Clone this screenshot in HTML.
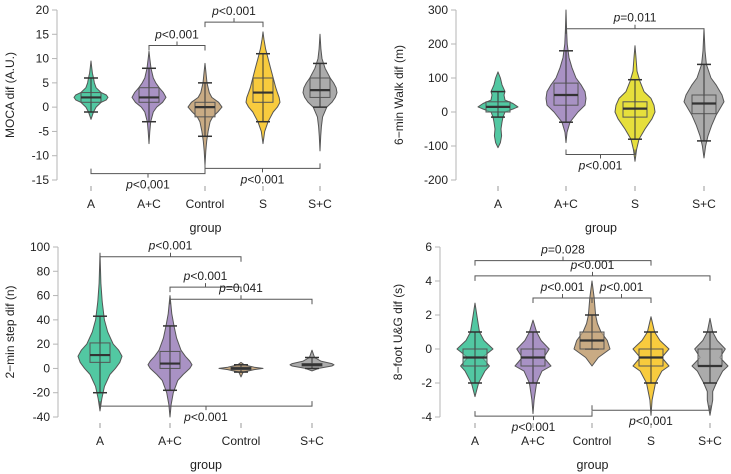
<!DOCTYPE html>
<html><head><meta charset="utf-8">
<style>
html,body{margin:0;padding:0;background:#fff;}
svg{display:block;font-family:"Liberation Sans",sans-serif;}
</style></head>
<body>
<svg id="chart" width="731" height="474" viewBox="0 0 731 474"></svg>
<script>
// ---------- DATA ----------
const colors = {"A":"#52c8a2","A+C":"#a992c4","Control":"#c9ab84","S":"#f8cb3e","S+C":"#ababab"};
// Panel 1: MOCA
const p1Categories = ["A","A+C","Control","S","S+C"];
const p1Ticks = [20,15,10,5,0,-5,-10,-15];
const p1Violins = {
 "A":{ys:[-2.5,-1,0,1,1.5,2,2.5,3,4,5,6,7,8,9.5],d:[0,0.15,0.3,0.6,0.9,1,0.9,0.6,0.3,0.2,0.15,0.08,0.05,0]},
 "A+C":{ys:[-7.5,-5,-3,-1,0,1,2,3,4,5,6,8,10,11.5],d:[0,0.05,0.1,0.25,0.45,0.8,1,0.85,0.6,0.4,0.25,0.12,0.05,0]},
 "Control":{ys:[-12,-9,-7,-5,-3,-2,-1,0,1,2,3,5,7,9],d:[0,0.05,0.1,0.18,0.3,0.45,0.75,1,0.8,0.4,0.25,0.12,0.06,0]},
 "S":{ys:[-7.5,-5,-3,-1,0,1,2,3,4,6,8,10,12,14,15.5],d:[0,0.1,0.3,0.6,0.85,1,0.95,0.85,0.75,0.6,0.45,0.3,0.15,0.05,0]},
 "S+C":{ys:[-9,-6,-4,-2,0,1,2,3,4,5,6,8,10,12,15],d:[0,0.04,0.08,0.15,0.4,0.7,0.9,1,0.95,0.8,0.6,0.3,0.12,0.05,0]}
};
const p1Boxes = {"A":[1,2,3,-1,6],"A+C":[1,2,4,-3,8],"Control":[-2,0,1,-6,5],"S":[1,3,6,-3,11],"S+C":[2,3.5,6,0,9]};
const p1Brackets = [["A+C","Control",12.7,"p<0.001","top"],["Control","S",17.5,"p<0.001","top"],["A","Control",-13.7,"p<0.001","bot"],["Control","S+C",-12.6,"p<0.001","bot"]];
// Panel 2: 6-min walk
const p2Categories = ["A","A+C","S","S+C"];
const p2Ticks = [300,200,100,0,-100,-200];
const p2Violins = {
 "A":{ys:[-105,-90,-70,-50,-30,-15,0,10,15,25,35,50,60,80,100,118],d:[0,0.12,0.18,0.15,0.2,0.25,0.35,0.8,1,0.75,0.35,0.3,0.35,0.2,0.12,0]},
 "A+C":{ys:[-90,-60,-30,0,20,40,60,80,100,130,160,200,240,300],d:[0,0.05,0.2,0.6,0.95,1,0.95,0.75,0.5,0.3,0.15,0.06,0.03,0]},
 "S":{ys:[-145,-110,-80,-50,-20,0,20,40,60,90,120,160,195],d:[0,0.08,0.2,0.5,0.85,1,0.95,0.8,0.45,0.25,0.1,0.05,0]},
 "S+C":{ys:[-135,-100,-70,-40,-10,10,30,50,80,100,140,180,245],d:[0,0.08,0.2,0.38,0.6,0.8,1,0.9,0.6,0.35,0.12,0.05,0]}
};
const p2Boxes = {"A":[0,15,30,-15,60],"A+C":[20,50,85,-30,180],"S":[-15,10,30,-80,95],"S+C":[-5,25,50,-85,140]};
const p2Brackets = [["A+C","S+C",245,"p=0.011","top"],["A+C","S",-125,"p<0.001","bot"]];
// Panel 3: 2-min step
const p3Categories = ["A","A+C","Control","S+C"];
const p3Ticks = [100,80,60,40,20,0,-20,-40];
const p3Violins = {
 "A":{ys:[-35,-25,-15,-5,0,5,10,15,20,30,40,55,70,95],d:[0,0.08,0.2,0.45,0.7,0.9,1,0.85,0.6,0.35,0.2,0.1,0.04,0]},
 "A+C":{ys:[-40,-30,-20,-10,-5,0,3,6,10,15,25,35,45,60],d:[0,0.05,0.15,0.35,0.6,0.9,1,0.9,0.7,0.5,0.3,0.18,0.08,0]},
 "Control":{ys:[-7,-3,-1,0,1,3,5],d:[0,0.1,0.6,1,0.6,0.15,0]},
 "S+C":{ys:[-2,0,2,3,4,6,9,12,15],d:[0,0.3,0.9,1,0.9,0.4,0.12,0.06,0]}
};
const p3Boxes = {"A":[5,11,21,-20,43],"A+C":[0,4,14,-18,35],"Control":[-1,0,1,-3,3],"S+C":[2,3,4,0,9]};
const p3Brackets = [["A","Control",92,"p<0.001","top"],["A+C","Control",67,"p<0.001","top"],["A+C","S+C",57,"p=0.041","top"],["A","S+C",-31,"p<0.001","bot"]];
// Panel 4: 8-foot U&G
const p4Categories = ["A","A+C","Control","S","S+C"];
const p4Ticks = [6,4,2,0,-2,-4];
const p4Violins = {
 "A":{ys:[-2.8,-2,-1.3,-1,-0.5,0,0.5,1,2,2.7],d:[0,0.2,0.55,0.8,0.4,1,0.5,0.25,0.1,0]},
 "A+C":{ys:[-3.8,-3,-2,-1.3,-1,-0.5,0,0.5,1,1.7],d:[0,0.06,0.2,0.5,1,0.6,0.9,0.45,0.2,0]},
 "Control":{ys:[-1,-0.5,0,0.5,1,1.5,2,3,4],d:[0,0.35,1,0.85,0.5,0.3,0.2,0.12,0]},
 "S":{ys:[-3.9,-3,-2,-1.3,-1,-0.5,0,0.5,1,1.9],d:[0,0.06,0.25,0.6,1,0.6,1,0.5,0.2,0]},
 "S+C":{ys:[-3.9,-3,-2.5,-2,-1.3,-1,-0.5,0,0.5,1,1.8],d:[0,0.15,0.15,0.35,0.7,1,0.55,0.85,0.4,0.15,0]}
};
const p4Boxes = {"A":[-1,-0.5,0,-2,1],"A+C":[-1,-0.5,0,-2,1],"Control":[0,0.5,1,0,2],"S":[-1,-0.5,0,-2,1],"S+C":[-1,-1,0,-2,1]};
const p4Brackets = [["A","S",5.2,"p=0.028","top"],["A","S+C",4.3,"p<0.001","top"],["A+C","Control",3,"p<0.001","top"],["Control","S",3,"p<0.001","top"],["A","Control",-3.95,"p<0.001","bot"],["Control","S+C",-3.6,"p<0.001","bot"]];

// ---------- DRAW ----------
const svg = document.getElementById('chart');
const NS = "http://www.w3.org/2000/svg";
function mk(tag, attrs, parent){const e=document.createElementNS(NS,tag);for(const k in attrs)e.setAttribute(k,attrs[k]);(parent||svg).appendChild(e);return e;}

function panel(cfg){
  const g = mk('g',{});
  
  
  const col = Object.assign({}, colors, cfg.colorOverride||{});
  const ymax=cfg.ticks[0], ymin=cfg.ticks[cfg.ticks.length-1];
  const ys = v => cfg.top + (ymax - v)/(ymax - ymin)*(cfg.bottom - cfg.top);
  const xs = c => cfg.xpos[cfg.cats.indexOf(c)];
  const ax = mk('line',{x1:cfg.axisX,x2:cfg.axisX,y1:ys(ymax),y2:ys(ymin),stroke:'#b5b5b5','stroke-width':1},g);
  
  
  cfg.ticks.forEach(t=>{
    mk('line',{x1:cfg.axisX-5,x2:cfg.axisX,y1:ys(t),y2:ys(t),stroke:'#b5b5b5'},g);
    const tx = mk('text',{x:cfg.axisX-8,y:ys(t)+4,'text-anchor':'end','font-size':12,fill:'#222'},g);
    tx.textContent=t;
    
    
  });
  const yl = mk('text',{transform:`translate(${cfg.ylabX},${(ys(ymax)+ys(ymin))/2}) rotate(-90)`,'text-anchor':'middle','font-size':12,fill:'#222'},g);
  yl.textContent=cfg.ylabel;
  
  
  cfg.cats.forEach((c,i)=>{
    const x=cfg.xpos[i];
    mk('line',{x1:x,x2:x,y1:cfg.bottom+6,y2:cfg.bottom+11,stroke:'#999'},g);
    const tl = mk('text',{x:x,y:cfg.bottom+28,'text-anchor':'middle','font-size':12,fill:'#222'},g);
    tl.textContent=c;
    
    
  });
  const xt = mk('text',{x:(cfg.xpos[0]+cfg.xpos[cfg.xpos.length-1])/2,y:cfg.bottom+52,'text-anchor':'middle','font-size':12.5,fill:'#222'},g);
  xt.textContent='group';
  
  
  cfg.cats.forEach(c=>{
    const v=cfg.violins[c], cx=xs(c), W=cfg.half;
    let pts=[];
    for(let i=0;i<v.ys.length;i++) pts.push([cx+v.d[i]*W, ys(v.ys[i])]);
    for(let i=v.ys.length-1;i>=0;i--) pts.push([cx-v.d[i]*W, ys(v.ys[i])]);
    const p = mk('polygon',{points:pts.map(p=>p[0].toFixed(1)+','+p[1].toFixed(1)).join(' '),fill:col[c],stroke:'#555','stroke-width':1,'stroke-linejoin':'round'},g);
    
    
    const b=cfg.boxes[c], bw=cfg.boxHalf;
    mk('line',{x1:cx,x2:cx,y1:ys(b[3]),y2:ys(b[4]),stroke:'#333','stroke-width':1},g);
    mk('line',{x1:cx-7,x2:cx+7,y1:ys(b[3]),y2:ys(b[3]),stroke:'#333','stroke-width':1.5},g);
    mk('line',{x1:cx-7,x2:cx+7,y1:ys(b[4]),y2:ys(b[4]),stroke:'#333','stroke-width':1.5},g);
    const bx = mk('rect',{x:cx-bw,y:ys(b[2]),width:2*bw,height:Math.max(1,ys(b[0])-ys(b[2])),fill:col[c],'fill-opacity':0.6,stroke:'#555'},g);
    
    
    mk('line',{x1:cx,x2:cx,y1:ys(b[2]),y2:ys(b[0]),stroke:'#444','stroke-width':1},g);
    mk('line',{x1:cx-bw,x2:cx+bw,y1:ys(b[1]),y2:ys(b[1]),stroke:'#333','stroke-width':2.2},g);
  });
  cfg.brackets.forEach(br=>{
    const x1=xs(br[0]), x2=xs(br[1]), y=ys(br[2]), top=br[4]==='top';
    const e = top?5:-5;
    const bg = mk('g',{},g);
    
    
    mk('path',{d:`M${x1},${y+e} L${x1},${y} L${x2},${y} L${x2},${y+e} M${(x1+x2)/2},${y} L${(x1+x2)/2},${y-e*0.8}`,fill:'none',stroke:'#555','stroke-width':1},bg);
    const t = mk('text',{x:(x1+x2)/2,y:top?y-7:y+15,'text-anchor':'middle','font-size':12,fill:'#222'},bg);
    const i=mk('tspan',{'font-style':'italic'},t); i.textContent=br[3][0];
    const r=mk('tspan',{},t); r.textContent=br[3].slice(1);
  });
}

panel({name:'moca-panel',cats:p1Categories,xpos:[91,149,205,263,320],ticks:p1Ticks,top:10,bottom:180,axisX:57,ylabX:14,ylabel:'MOCA dif (A.U.)',violins:p1Violins,boxes:p1Boxes,brackets:p1Brackets,half:17,boxHalf:10});
panel({name:'six-min-walk-panel',cats:p2Categories,xpos:[498,566,635,704],ticks:p2Ticks,top:10,bottom:180,axisX:456,ylabX:403,ylabel:'6\u2212min Walk dif (m)',violins:p2Violins,boxes:p2Boxes,brackets:p2Brackets,half:20,boxHalf:12,colorOverride:{"S":"#e6df3c"}});
panel({name:'two-min-step-panel',cats:p3Categories,xpos:[100,170,241,312],ticks:p3Ticks,top:247,bottom:417,axisX:58,ylabX:14,ylabel:'2\u2212min step dif (n)',violins:p3Violins,boxes:p3Boxes,brackets:p3Brackets,half:22,boxHalf:10});
panel({name:'eight-foot-ug-panel',cats:p4Categories,xpos:[475,533,592,651,710],ticks:p4Ticks,top:247,bottom:417,axisX:440,ylabX:402,ylabel:'8\u2212foot U&G dif (s)',violins:p4Violins,boxes:p4Boxes,brackets:p4Brackets,half:18,boxHalf:12});
</script>
</body></html>
